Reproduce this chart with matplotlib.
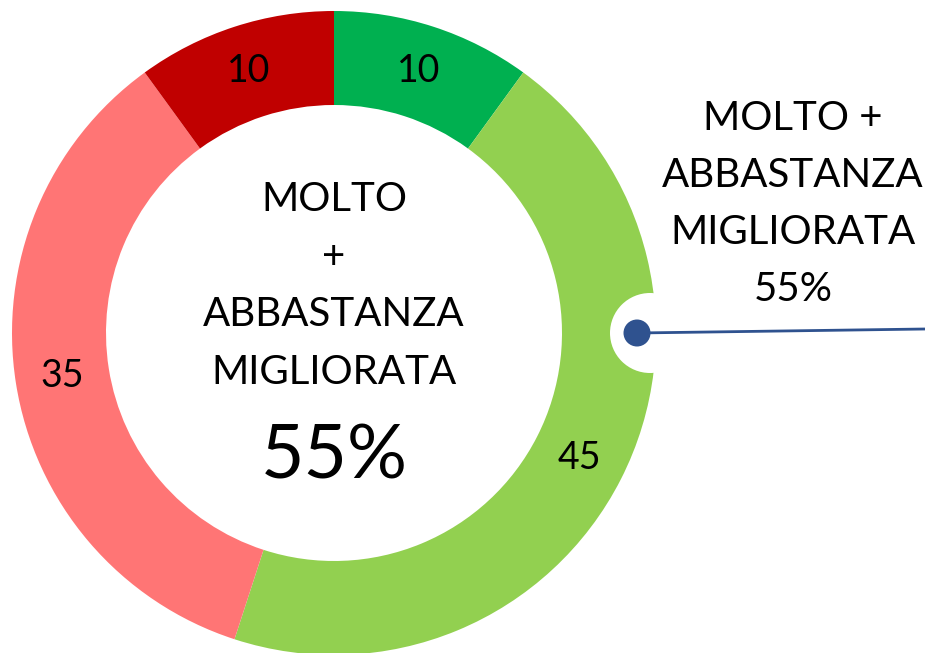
import matplotlib
matplotlib.use("Agg")
import matplotlib.pyplot as plt
from matplotlib.patches import Circle
import numpy as np

plt.rcParams['font.family'] = ['Lato', 'DejaVu Sans']

categories = ["Molto migliorata", "Abbastanza migliorata", "Abbastanza peggiorata", "Molto peggiorata"]
values = [10, 45, 35, 10]
colors = ["#00B050", "#92D050", "#FF7575", "#C00000"]
center_text = "MOLTO\n+\nABBASTANZA\nMIGLIORATA"
total_label = "55%"
side_text = "MOLTO +\nABBASTANZA\nMIGLIORATA\n55%"

W, H = 925, 653
fig = plt.figure(figsize=(W / 100, H / 100), dpi=100)
ax = fig.add_axes([0, 0, 1, 1])

cx, cy = 334, H - 333
R, ring = 322, 94
wedges, _ = ax.pie(values, colors=colors, startangle=90, counterclock=False,
                   radius=R, center=(cx, cy),
                   wedgeprops=dict(width=ring, edgecolor='none'))

rl = R - ring / 2
for w, v in zip(wedges, values):
    ang = np.deg2rad((w.theta1 + w.theta2) / 2)
    ax.text(cx + rl * np.cos(ang), cy + rl * np.sin(ang), str(v),
            ha='center', va='center', fontsize=27, color='black')

# center text
ax.text(cx, H - 286, center_text, ha='center', va='center', fontsize=29,
        linespacing=1.68, color='black')
ax.text(cx, H - 457, total_label, ha='center', va='center', fontsize=54, color='black')

# cutout and marker
ax.add_patch(Circle((650, H - 333), 40, facecolor='white', edgecolor='none', zorder=4))
ax.plot([637, 925], [H - 333, H - 329], color='#2F528F', lw=2, zorder=5, solid_capstyle='butt')
ax.add_patch(Circle((637, H - 333), 13.5, facecolor='#2F528F', edgecolor='none', zorder=6))

ax.text(793, H - 204, side_text, ha='center', va='center', fontsize=29,
        linespacing=1.66, color='black')

ax.set_xlim(0, W)
ax.set_ylim(0, H)
ax.set_aspect('equal')
ax.axis('off')
fig.savefig("out.png", dpi=100, facecolor='white')
